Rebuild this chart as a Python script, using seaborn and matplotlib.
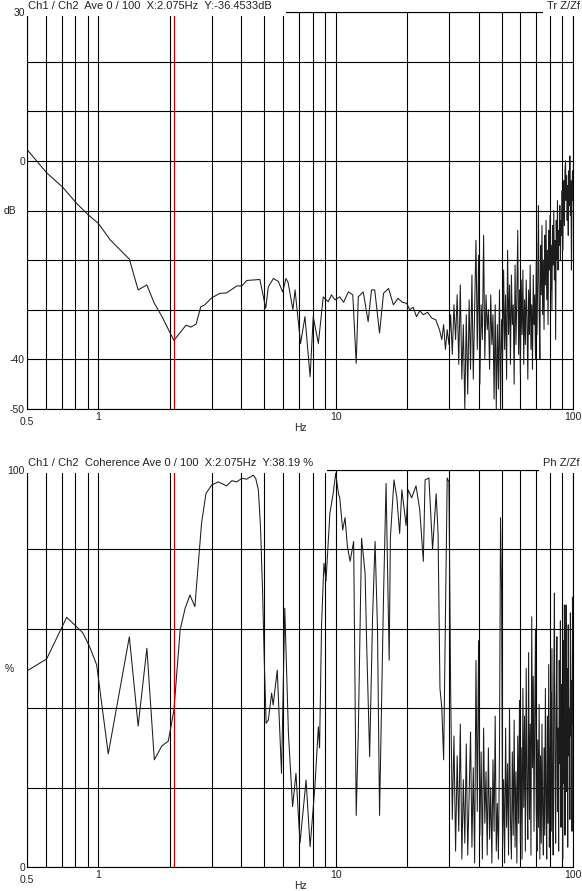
import seaborn as sns
import pandas as pd
import matplotlib.pyplot as plt
import matplotlib.transforms as mtransforms
import numpy as np

# transmissibility Ch1/Ch2 (dB), smooth part
tr_freq_low = [0.5, 0.605, 0.707, 0.81, 0.907,
               1.0, 1.12, 1.35, 1.47, 1.6,
               1.72, 1.85, 2.08, 2.34, 2.45,
               2.58, 2.7, 2.81, 3.0, 3.25,
               3.47, 3.83, 4.02, 4.22, 4.79,
               5.07, 5.2, 5.46, 5.73, 5.98,
               6.17, 6.3, 6.6, 6.74, 7.11,
               7.42, 7.8, 8.04, 8.45, 8.86,
               9.3, 9.6, 9.93, 10.4, 10.8,
               11.3, 11.8, 12.2, 12.45, 13.06,
               13.7, 14.15, 14.6, 15.3, 15.9,
               16.7, 17.5, 18.3, 19.1, 19.9,
               20.5, 21.2, 21.9, 22.6, 23.4,
               24.4, 25.4, 26.4, 27.4]
tr_db_low = [2.3, -2.4, -5.3, -8.6, -10.9,
             -12.6, -15.9, -19.8, -26.0, -25.0,
             -28.7, -31.3, -36.2, -33.1, -33.5,
             -32.9, -29.4, -29.0, -27.6, -26.7,
             -26.6, -25.2, -25.2, -24.1, -23.9,
             -29.7, -25.4, -23.7, -24.3, -26.4,
             -23.7, -24.5, -30.0, -26.0, -36.8,
             -31.4, -43.5, -31.4, -36.8, -27.4,
             -28.4, -27.0, -28.0, -27.4, -28.5,
             -26.4, -27.0, -40.8, -27.4, -26.4,
             -32.4, -26.0, -26.0, -34.7, -26.7,
             -25.7, -29.0, -27.7, -28.5, -28.7,
             -30.0, -29.5, -31.4, -30.2, -31.0,
             -30.5, -31.7, -32.0, -34.1]

# noisy band, one bin every 0.5 Hz from 28 to 100 Hz
high_freq = np.arange(28.0, 100.25, 0.5)
tr_db_high = [-36, -33, -38, -34, -37, -31, -39, -29, -36, -27,
              -41, -25, -44, -33, -50, -31, -47, -28, -42, -23,
              -44, -30, -16, -38, -19, -45, -29, -36, -15, -40,
              -27, -34, -30, -42, -27, -37, -31, -48, -29, -50,
              -33, -46, -26, -50, -32, -40, -22, -38, -27, -44,
              -18, -35, -25, -41, -23, -33, -29, -45, -21, -37,
              -27, -14, -39, -26, -43, -24, -35, -22, -41, -28,
              -37, -24, -32, -44, -26, -35, -21, -38, -29, -42,
              -23, -33, -27, -40, -20, -35, -24, -9, -30, -40,
              -17, -27, -13, -31, -20, -34, -15, -25, -12, -28,
              -18, -33, -14, -22, -11, -26, -17, -30, -13, -21,
              -10, -24, -16, -36, -12, -20, -8, -22, -14, -17,
              -9, -20, -12, -15, -6, -18, -10, -4, -13, -2,
              0, -8, -3, -12, -5, -15, -2, -9, 1, -11,
              -4, -22, -7, -2, -8]

# coherence (%)
coh_freq_low = [0.5, 0.605, 0.735, 0.859, 0.915,
                0.983, 1.10, 1.35, 1.47, 1.6,
                1.72, 1.85, 1.97, 2.08, 2.21,
                2.32, 2.43, 2.55, 2.72, 2.84,
                3.0, 3.2, 3.47, 3.65, 3.83,
                4.02, 4.22, 4.35, 4.49, 4.6,
                4.72, 4.82, 4.92, 5.0, 5.09,
                5.2, 5.37, 5.45, 5.67, 5.91,
                6.1, 6.32, 6.58, 6.8, 7.07,
                7.5, 7.8, 8.17, 8.45, 8.55,
                8.72, 8.92, 9.1, 9.45, 9.75,
                10.0, 10.27, 10.4, 10.7, 10.95,
                11.2, 11.5, 11.9, 12.2, 12.45,
                12.85, 13.3, 13.5, 13.9, 14.3,
                14.65, 15.0, 15.3, 15.9, 16.3,
                16.8, 17.0, 17.6, 18.1, 18.6,
                19.0, 19.8, 20.2, 20.9, 21.8,
                22.6, 23.4, 23.8, 24.7, 25.6,
                26.5, 27.0, 27.5]
coh_low = [49.4, 52.4, 62.9, 59.0, 55.7,
           50.9, 28.5, 58.0, 35.5, 55.1,
           27.0, 30.5, 31.7, 39.5, 59.7,
           65.2, 68.5, 65.6, 86.6, 94.1,
           96.2, 97.0, 96.0, 97.3, 97.0,
           97.9, 97.7, 98.2, 98.7, 97.9,
           95.0, 85.7, 69.0, 52.0, 36.2,
           37.0, 43.8, 40.8, 49.6, 23.6,
           65.2, 33.7, 15.2, 23.6, 6.0,
           21.9, 5.1, 20.2, 35.3, 30.0,
           61.4, 76.5, 72.0, 89.1, 94.0,
           99.2, 94.0, 93.0, 84.9, 88.0,
           80.7, 77.0, 82.0, 13.0, 33.7,
           82.8, 74.0, 56.4, 27.8, 63.0,
           82.0, 60.0, 13.0, 68.0, 96.6,
           52.1, 83.0, 97.5, 93.0, 84.0,
           95.0, 86.0, 95.0, 93.0, 96.0,
           90.0, 77.0, 97.5, 98.0, 80.0,
           94.0, 84.0, 45.0]
coh_high = [40, 27, 63, 98, 97, 45, 12, 33, 4, 28,
            9, 36, 2, 22, 6, 31, 3, 18, 34, 5,
            25, 1, 52, 14, 57, 8, 29, 2, 35, 11,
            24, 3, 30, 7, 20, 1, 27, 9, 38, 4,
            16, 2, 30, 88, 70, 5, 22, 1, 35, 10,
            26, 3, 40, 12, 2, 29, 8, 37, 5, 24,
            1, 33, 11, 42, 6, 30, 2, 45, 15, 38,
            4, 50, 20, 7, 54, 12, 36, 3, 63, 25,
            48, 9, 39, 60, 15, 4, 32, 10, 41, 2,
            28, 6, 36, 14, 3, 30, 8, 45, 17, 2,
            38, 11, 51, 5, 27, 44, 9, 55, 18, 3,
            48, 69, 22, 6, 40, 58, 14, 35, 4, 52,
            26, 62, 10, 46, 30, 2, 57, 21, 66, 8,
            43, 66, 19, 50, 5, 61, 28, 40, 12, 64,
            33, 47, 9, 68, 36]

cursor_hz = 2.075
grid_hz = [0.5, 0.6, 0.7, 0.8, 0.9, 1, 2, 3, 4, 5, 6, 7, 8, 9,
           10, 20, 30, 40, 50, 60, 70, 80, 90, 100]
xtick_text = {1: "1", 10: "10", 100: "100"}

tr = pd.DataFrame({"freq": list(tr_freq_low) + list(high_freq),
                   "val": list(tr_db_low) + list(tr_db_high)})
coh = pd.DataFrame({"freq": list(coh_freq_low) + list(high_freq),
                    "val": list(coh_low) + list(coh_high)})

sns.set_theme(style="white")
plt.rcParams['font.family'] = ['Liberation Sans', 'DejaVu Sans']
txt_col = "#222222"
fs = 7.5
fs_title = 8

fig = plt.figure(figsize=(5.82, 8.91), dpi=100)
ax1 = fig.add_axes([27 / 582, 482 / 891, 546 / 582, 397 / 891])
ax2 = fig.add_axes([27 / 582, 24 / 891, 546 / 582, 397 / 891])


def style_panel(ax, df, ylim, ystep, ylabels, ylab, title, right, title_y):
    sns.lineplot(data=df, x="freq", y="val", ax=ax, color="#1c1c1c",
                 lw=0.75, estimator=None, sort=False, zorder=2)
    ax.set_xscale("log")
    ax.set_xlim(0.5, 100)
    ax.set_ylim(*ylim)

    ax.set_xticks(grid_hz)
    ax.set_xticklabels([xtick_text.get(g, "") for g in grid_hz])
    ax.xaxis.set_minor_locator(plt.NullLocator())
    ax.grid(axis="x", color="black", lw=0.8)
    yt = list(range(ylim[0], ylim[1] + 1, ystep))
    ax.set_yticks(yt)
    ax.set_yticklabels(ylabels)
    for v in yt:
        ax.axhline(v, color="black", lw=0.8, zorder=1)

    ax.tick_params(axis="both", length=0, labelsize=fs, labelcolor=txt_col)
    ax.tick_params(axis="y", pad=1.5)
    ax.tick_params(axis="x", pad=2)
    ax.yaxis.set_zorder(4)

    ax.axvline(cursor_hz, color="#cc0000", lw=0.9, zorder=2.2)

    for s in ax.spines.values():
        s.set_color("black")
        s.set_linewidth(0.8)

    ax.set_xlabel("Hz", fontsize=fs, color=txt_col, va="center")
    ax.xaxis.set_label_coords(0.5, -0.047)
    ax.set_ylabel(ylab, rotation=0, fontsize=fs, color=txt_col,
                  va="center", ha="center")
    ax.yaxis.set_label_coords(-0.032, 0.5)

    trans = mtransforms.blended_transform_factory(ax.transData, ax.transAxes)
    ax.text(0.5, -0.033, "0.5", transform=trans, ha="center", va="center",
            fontsize=fs, color=txt_col, clip_on=False)

    box = dict(boxstyle="square,pad=0.4", fc="white", ec="none")
    ax.text(0.002, title_y, title + "   ", transform=ax.transAxes,
            ha="left", va="center", fontsize=fs_title, color=txt_col,
            bbox=box, zorder=3, clip_on=False)
    ax.text(1.0128, title_y, right, transform=ax.transAxes,
            ha="right", va="center", fontsize=fs_title, color=txt_col,
            bbox=box, zorder=3, clip_on=False)


style_panel(ax1, tr, (-50, 30), 10,
            ["-50", "-40", "", "", "", "0", "", "", "30"], "dB",
            "Ch1 / Ch2  Ave 0 / 100  X:2.075Hz  Y:-36.4533dB", "Tr Z/Zf",
            1.0144)
style_panel(ax2, coh, (0, 100), 20,
            ["0", "", "", "", "", "100"], "%",
            "Ch1 / Ch2  Coherence Ave 0 / 100  X:2.075Hz  Y:38.19 %",
            "Ph Z/Zf", 1.0164)

fig.savefig("out.png", dpi=100)
